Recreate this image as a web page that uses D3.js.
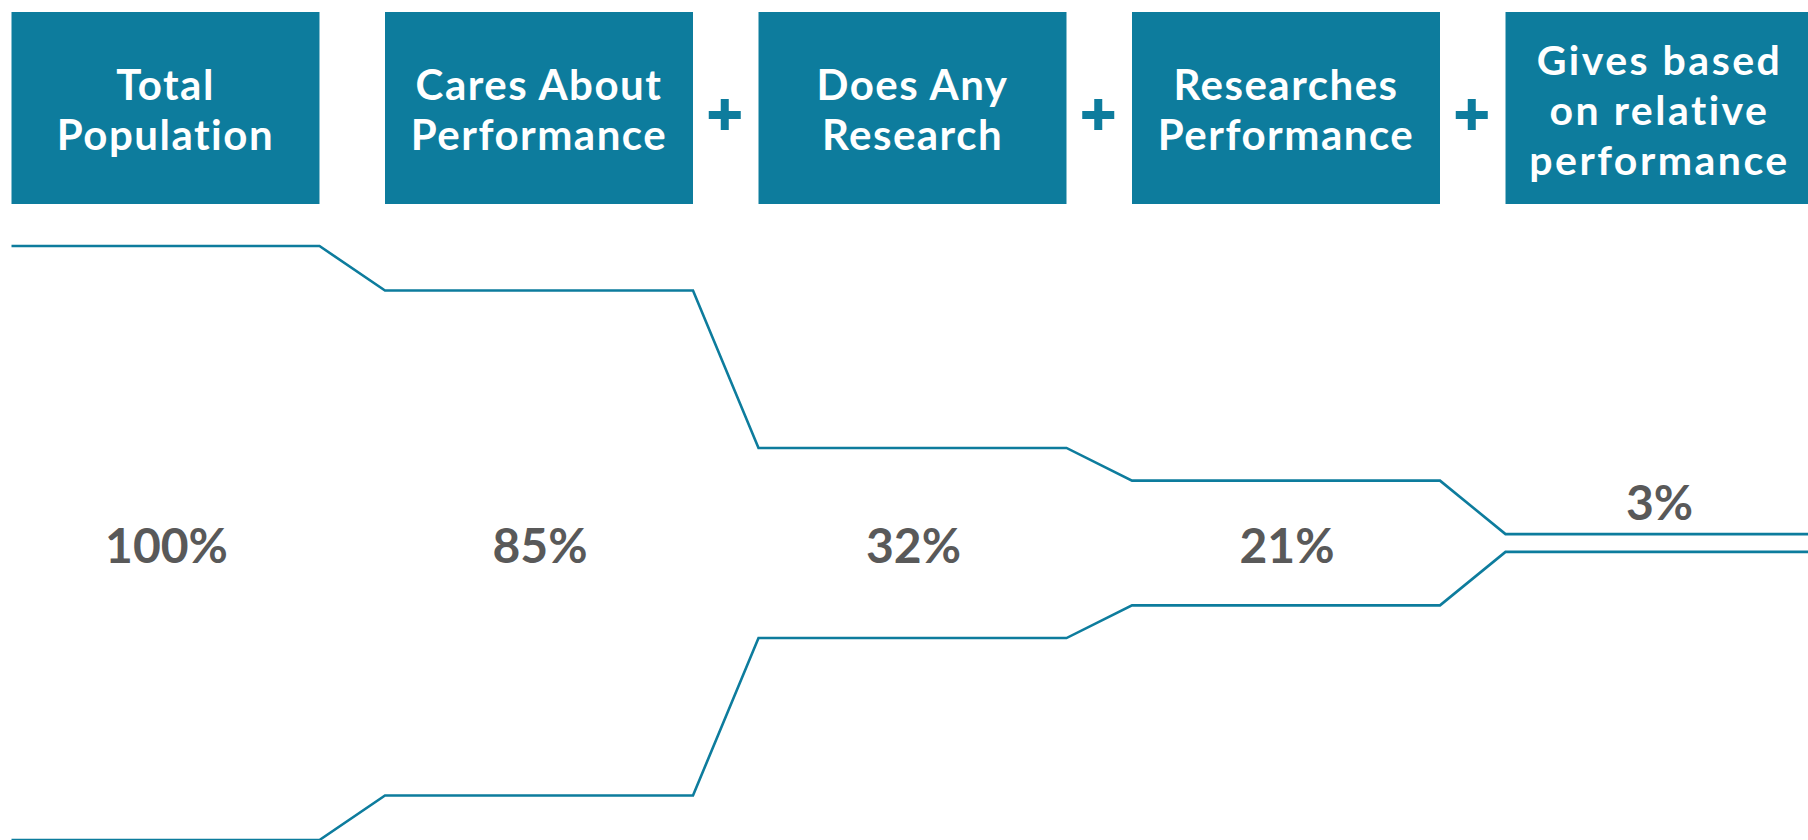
<!DOCTYPE html>
<html>
<head>
<meta charset="utf-8">
<script src="https://cdn.jsdelivr.net/npm/d3@7"></script>
<style>
  html, body { margin: 0; padding: 0; background: #ffffff; overflow: hidden; }
  svg { display: block; }
</style>
</head>
<body>
<svg id="chart" width="1808" height="840"></svg>
<script>
// ---- data ----
const stages = ["Total Population", "Cares About Performance", "Does Any Research", "Researches Performance", "Gives based on relative performance"];
const headerLines = [["Total", "Population"], ["Cares About", "Performance"], ["Does Any", "Research"], ["Researches", "Performance"], ["Gives based", "on relative", "performance"]];
const values = [100, 85, 32, 21, 3];
const valueLabels = ["100%", "85%", "32%", "21%", "3%"];
const joiners = ["", "+", "+", "+"]; // operator between stage i and stage i+1

// ---- style ----
const teal = "#0d7c9d";
const grey = "#595959";
const W = 1808, H = 840;
const font = "Lato, 'Open Sans', sans-serif";

const svg = d3.select("#chart");

const x = d3.scaleBand()
  .domain(stages)
  .range([11.5, 1813.5])
  .paddingInner(0.1754)
  .paddingOuter(0);
const bw = x.bandwidth();

const centerY = 543;
const half = d3.scaleLinear().domain([0, 100]).range([0, 297]);

// ---- header boxes ----
const boxTop = 12, boxBottom = 204;
const g = svg.append("g");
g.selectAll("rect.box")
  .data(stages)
  .join("rect")
  .attr("class", "box")
  .attr("x", d => x(d))
  .attr("y", boxTop)
  .attr("width", bw)
  .attr("height", boxBottom - boxTop)
  .attr("fill", teal);

stages.forEach((s, i) => {
  const lines = headerLines[i];
  const n = lines.length;
  const fs = n > 2 ? 41 : 42;
  const t = g.append("text")
    .attr("text-anchor", "middle")
    .attr("fill", "#ffffff")
    .attr("font-family", font)
    .attr("font-weight", 700)
    .attr("font-size", fs)
    .attr("letter-spacing", n > 2 ? 2.5 : 1.5);
  lines.forEach((ln, k) => {
    t.append("tspan")
      .attr("x", x(s) + bw / 2)
      .attr("y", 124.5 + (k - (n - 1) / 2) * 50)
      .text(ln);
  });
});

// ---- plus signs ----
joiners.forEach((j, i) => {
  if (j !== "+") return;
  const cx = (x(stages[i]) + bw + x(stages[i + 1])) / 2 - 1;
  const cy = 115;
  g.append("rect").attr("x", cx - 16).attr("y", cy - 4).attr("width", 32).attr("height", 8).attr("fill", teal);
  g.append("rect").attr("x", cx - 4).attr("y", cy - 16).attr("width", 8).attr("height", 31).attr("fill", teal);
});

// ---- funnel lines ----
const topPts = [], botPts = [];
stages.forEach((s, i) => {
  const x0 = x(s), x1 = Math.min(x(s) + bw, W);
  const h = half(values[i]);
  topPts.push([x0, centerY - h], [x1, centerY - h]);
  botPts.push([x0, centerY + h], [x1, centerY + h]);
});
const line = d3.line();
[topPts, botPts].forEach(pts => {
  svg.append("path")
    .attr("d", line(pts))
    .attr("fill", "none")
    .attr("stroke", teal)
    .attr("stroke-width", 2.6)
    .attr("stroke-linejoin", "miter");
});

// ---- value labels ----
svg.selectAll("text.val")
  .data(stages)
  .join("text")
  .attr("class", "val")
  .attr("x", d => x(d) + bw / 2 + (d === stages[4] ? 0 : 1))
  .attr("y", (d, i) => half(values[i]) < 30 ? centerY - half(values[i]) - 14 : centerY + 20)
  .attr("text-anchor", "middle")
  .attr("fill", grey)
  .attr("font-family", font)
  .attr("font-weight", 700)
  .attr("font-size", 48)
  .text((d, i) => valueLabels[i]);
</script>
</body>
</html>
